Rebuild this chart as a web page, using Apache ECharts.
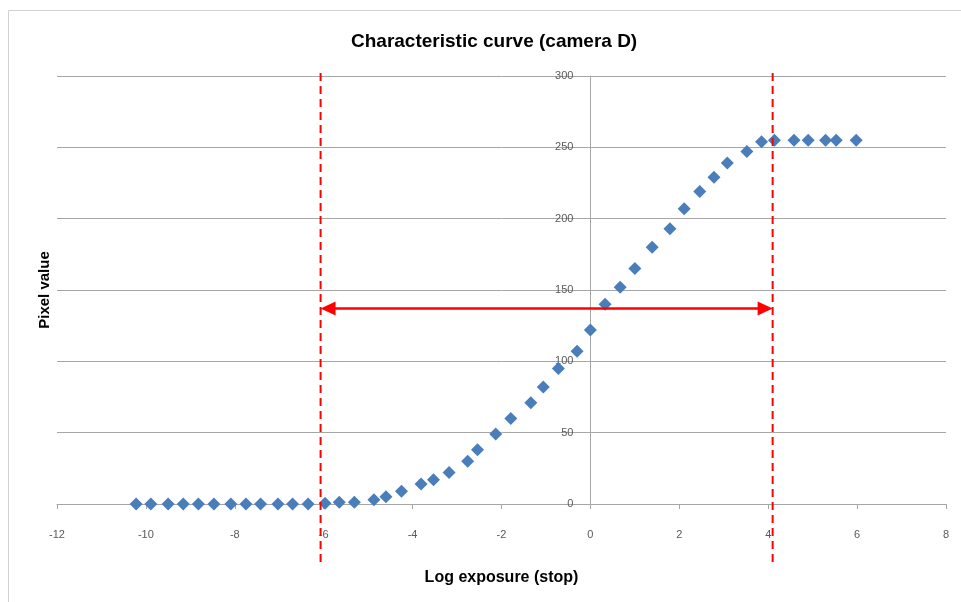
<!DOCTYPE html>
<html>
<head>
<meta charset="utf-8">
<script src="https://cdn.jsdelivr.net/npm/echarts@6/dist/echarts.min.js"></script>
<style>
html,body{margin:0;padding:0;background:#fff;}
#chart{width:961px;height:602px;}
</style>
</head>
<body>
<div id="chart"></div>
<script>
// ---- data ----
const exposureStops = [-10.22, -9.89, -9.50, -9.16, -8.82, -8.47, -8.09, -7.75, -7.42, -7.03,
  -6.70, -6.35, -5.97, -5.65, -5.31, -4.87, -4.60, -4.25, -3.81, -3.53,
  -3.18, -2.76, -2.54, -2.13, -1.79, -1.34, -1.06, -0.72, -0.30, 0.00,
  0.33, 0.67, 1.00, 1.39, 1.79, 2.11, 2.46, 2.78, 3.08, 3.52,
  3.85, 4.14, 4.58, 4.90, 5.29, 5.53, 5.98];
const pixelValues = [0, 0, 0, 0, 0, 0, 0, 0, 0, 0,
  0, 0, 0.5, 1.2, 1.2, 3, 5, 9, 14, 17,
  22, 30, 38, 49, 60, 71, 82, 95, 107, 122,
  140, 152, 165, 180, 193, 207, 219, 229, 239, 247,
  254, 255, 255, 255, 255, 255, 255];
const dynamicRange = [-6.07, 4.10];   // stops, dashed limits
const arrowLevel = [137];             // pixel value where the arrow sits
const xTicks = { min: -12, max: 8, step: 2 };
const yTicks = { min: 0, max: 300, step: 50 };
const titleText = 'Characteristic curve (camera D)';
const xName = 'Log exposure (stop)';
const yName = 'Pixel value';

const points = exposureStops.map((x, i) => [x, pixelValues[i]]);

const FONT = "'Liberation Sans', Arial, sans-serif";
const chart = echarts.init(document.getElementById('chart'), null, { renderer: 'canvas' });

const gridBox = { left: 57, right: 15, top: 76, bottom: 98 };
const gridWidth = chart.getWidth() - gridBox.left - gridBox.right;
// shift the y axis (line + labels) so that it crosses the x axis at 0
const yAxisOffset = -gridWidth * (0 - xTicks.min) / (xTicks.max - xTicks.min);

chart.setOption({
  backgroundColor: '#ffffff',
  animation: false,
  title: {
    text: titleText,
    left: 346,
    top: 27,
    textStyle: { fontFamily: FONT, fontSize: 19, fontWeight: 'bold', color: '#000' }
  },
  grid: gridBox,
  xAxis: {
    type: 'value',
    min: xTicks.min, max: xTicks.max, interval: xTicks.step,
    name: xName,
    nameLocation: 'middle',
    nameGap: 66,
    nameTextStyle: { fontFamily: FONT, fontSize: 16, fontWeight: 'bold', color: '#000' },
    axisLine: { show: true, onZero: false, lineStyle: { color: '#a6a6a6', width: 1 } },
    axisTick: { show: true, inside: false, length: 5, lineStyle: { color: '#a6a6a6' } },
    axisLabel: { margin: 25, fontFamily: FONT, fontSize: 11, color: '#595959' },
    splitLine: { show: false }
  },
  yAxis: {
    type: 'value',
    position: 'left',
    offset: yAxisOffset,
    min: yTicks.min, max: yTicks.max, interval: yTicks.step,
    axisLine: { show: true, onZero: false, lineStyle: { color: '#a6a6a6', width: 1 } },
    axisTick: { show: false },
    axisLabel: { margin: 17, fontFamily: FONT, fontSize: 11, color: '#595959' },
    splitLine: { show: true, lineStyle: { color: '#a6a6a6', width: 1 } }
  },
  series: [{
    type: 'scatter',
    data: points,
    symbol: 'diamond',
    symbolSize: 13,
    itemStyle: { color: '#4a7ebb', opacity: 1 },
    z: 3
  }]
});

function drawOverlays() {
  const top = gridBox.top - 3;
  const bottom = chart.getHeight() - gridBox.bottom + 61;
  const els = [];
  const pxs = dynamicRange.map((v) => chart.convertToPixel({ gridIndex: 0 }, [v, arrowLevel[0]]));
  pxs.forEach((p) => {
    els.push({
      type: 'line',
      shape: { x1: p[0], y1: top, x2: p[0], y2: bottom },
      style: { stroke: '#ff0000', lineWidth: 2, lineDash: [8, 5] },
      z: 10, silent: true
    });
  });
  // double-headed arrow between the two limits
  const ay = pxs[0][1];
  const L = pxs[0][0], R = pxs[1][0];
  const head = 15, half = 7;
  els.push({
    type: 'line',
    shape: { x1: L + head - 2, y1: ay, x2: R - head + 2, y2: ay },
    style: { stroke: '#ff0000', lineWidth: 2.5 },
    z: 11, silent: true
  });
  els.push({
    type: 'polygon',
    shape: { points: [[L, ay], [L + head, ay - half], [L + head, ay + half]] },
    style: { fill: '#ff0000' }, z: 11, silent: true
  });
  els.push({
    type: 'polygon',
    shape: { points: [[R, ay], [R - head, ay - half], [R - head, ay + half]] },
    style: { fill: '#ff0000' }, z: 11, silent: true
  });
  // y-axis title, and outer chart-area border
  els.push({
    type: 'text',
    x: 45, y: (gridBox.top + chart.getHeight() - gridBox.bottom) / 2,
    rotation: Math.PI / 2,
    style: { text: yName, font: "bold 15px " + FONT, fill: '#000', align: 'center', verticalAlign: 'middle' },
    silent: true
  });
  els.push({
    type: 'rect',
    shape: { x: 8.5, y: 10.5, width: 980, height: 620 },
    style: { fill: 'none', stroke: '#d0d0d0', lineWidth: 1 },
    silent: true, z: -1
  });
  chart.setOption({ graphic: els });
}
drawOverlays();
</script>
</body>
</html>
